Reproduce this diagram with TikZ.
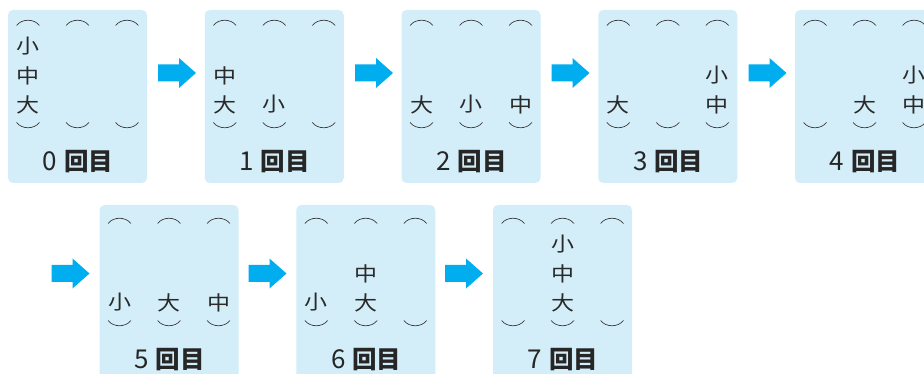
\documentclass[tikz,border=0pt]{standalone}
\usepackage{fontspec}
\newfontfamily\cjk{Noto Sans CJK JP}
\definecolor{panelbg}{HTML}{D3EEF9}
\definecolor{arrowc}{HTML}{00AEEF}
\definecolor{arcc}{HTML}{3A3A3A}
\definecolor{chc}{HTML}{2A2A2A}
\tikzset{
  panel/.style={fill=panelbg, rounded corners=5pt},
  ch/.style={font=\cjk\fontsize{20}{20}\selectfont, inner sep=0pt, text=chc, xscale=1.15, transform shape},
  lbl/.style={font=\cjk\fontsize{22}{22}\selectfont, inner sep=0pt, text=black!85},
  arcline/.style={draw=arcc, line width=0.7pt},
  bigarrow/.style={fill=arrowc}
}
% panel: #1 left x, #2 content origin y, #3 panel top (local), #4 digit, #5 panel bottom (local)
\newcommand\mkpanel[5]{%
  \fill[panel] (#1,#2+#3) rectangle (#1+139,#2+#5);
  \foreach \cx in {20,69.5,119}{
    \draw[arcline] (#1+\cx-11.5,#2+15.5) .. controls (#1+\cx-6,#2+8.5) and (#1+\cx+6,#2+8.5) .. (#1+\cx+11.5,#2+15.5);
    \draw[arcline] (#1+\cx-11.5,#2+112.5) .. controls (#1+\cx-6,#2+119.5) and (#1+\cx+6,#2+119.5) .. (#1+\cx+11.5,#2+112.5);
  }
  \node[lbl] (lab#4) at (#1+70,#2+151.5) {{\fontsize{26}{26}\selectfont #4}\hspace{7pt}{\bfseries\fontsize{24.5}{24.5}\selectfont 回目}};
}
\newcommand\mkarrow[2]{% #1 left x, #2 center y
  \fill[bigarrow] (#1,#2-8.5) -- (#1+21,#2-8.5) -- (#1+21,#2-15) -- (#1+38,#2) -- (#1+21,#2+15) -- (#1+21,#2+8.5) -- (#1,#2+8.5) -- cycle;
}
\begin{document}
\begin{tikzpicture}[x=1pt,y=-1pt]
\useasboundingbox (0,0) rectangle (924,374);
\clip (0,0) rectangle (924,374);
% row 1
\mkpanel{8}{10}{0}{0}{173}
\mkpanel{204.75}{10}{0}{1}{173}
\mkpanel{401.5}{10}{0}{2}{173}
\mkpanel{598.25}{10}{0}{3}{173}
\mkpanel{795}{10}{0}{4}{173}
% row 2
\mkpanel{99.5}{208}{-3}{5}{200}
\mkpanel{296.25}{208}{-3}{6}{200}
\mkpanel{493}{208}{-3}{7}{200}
% arrows
\mkarrow{158}{73}
\mkarrow{355}{73}
\mkarrow{551.5}{73}
\mkarrow{748.5}{73}
\mkarrow{51.5}{273.5}
\mkarrow{248.5}{273.5}
\mkarrow{445}{273.5}
% panel 0
\node[ch] (a0s) at (28,46.5) {小};
\node[ch] (a0m) at (28,75.5) {中};
\node[ch] (a0l) at (28,104.5) {大};
% panel 1
\node[ch] (a1m) at (224.75,75.5) {中};
\node[ch] (a1l) at (224.75,104.5) {大};
\node[ch] (a1s) at (274.25,104.5) {小};
% panel 2
\node[ch] (a2l) at (421.5,104.5) {大};
\node[ch] (a2s) at (471,104.5) {小};
\node[ch] (a2m) at (520.5,104.5) {中};
% panel 3
\node[ch] (a3l) at (618.25,104.5) {大};
\node[ch] (a3s) at (717.25,75.5) {小};
\node[ch] (a3m) at (717.25,104.5) {中};
% panel 4
\node[ch] (a4l) at (864.5,104.5) {大};
\node[ch] (a4s) at (914,75.5) {小};
\node[ch] (a4m) at (914,104.5) {中};
% panel 5
\node[ch] (a5s) at (119.5,302.5) {小};
\node[ch] (a5l) at (169,302.5) {大};
\node[ch] (a5m) at (218.5,302.5) {中};
% panel 6
\node[ch] (a6s) at (316.25,302.5) {小};
\node[ch] (a6m) at (365.75,273.5) {中};
\node[ch] (a6l) at (365.75,302.5) {大};
% panel 7
\node[ch] (a7s) at (562.5,244.5) {小};
\node[ch] (a7m) at (562.5,273.5) {中};
\node[ch] (a7l) at (562.5,302.5) {大};
\end{tikzpicture}
\end{document}
